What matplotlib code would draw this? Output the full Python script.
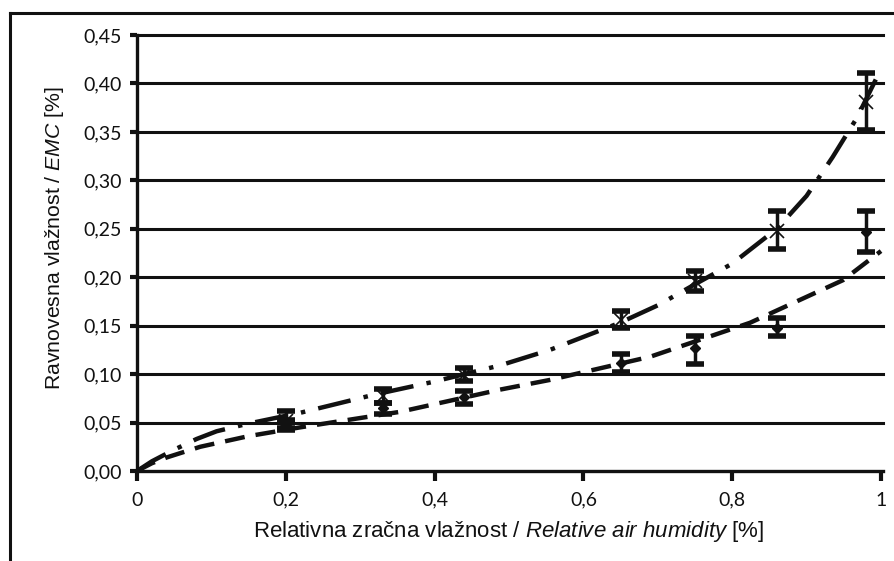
import matplotlib
matplotlib.use("Agg")
import matplotlib.pyplot as plt
from matplotlib.lines import Line2D

# ---- data ----
rh = [0.20, 0.33, 0.44, 0.65, 0.75, 0.86, 0.98]

emc_a = [0.052, 0.077, 0.099, 0.156, 0.196, 0.248, 0.381]
err_a_low = [0.042, 0.070, 0.093, 0.148, 0.186, 0.229, 0.352]
err_a_high = [0.062, 0.085, 0.106, 0.165, 0.206, 0.268, 0.411]

emc_b = [0.048, 0.065, 0.076, 0.111, 0.127, 0.148, 0.247]
err_b_low = [0.044, 0.059, 0.069, 0.102, 0.110, 0.139, 0.226]
err_b_high = [0.053, 0.070, 0.083, 0.121, 0.139, 0.158, 0.268]

fit_a_x = [0, 0.02, 0.05, 0.08, 0.107, 0.15, 0.219, 0.32, 0.398, 0.488, 0.555, 0.649,
           0.70, 0.753, 0.80, 0.86, 0.90, 0.935, 0.968, 1.0]
fit_a_y = [0, 0.010, 0.022, 0.033, 0.041, 0.049, 0.060, 0.079, 0.092, 0.109, 0.125, 0.153,
           0.171, 0.194, 0.214, 0.250, 0.284, 0.324, 0.365, 0.415]

fit_b_x = [0, 0.02, 0.04, 0.085, 0.15, 0.219, 0.353, 0.488, 0.555, 0.69, 0.824, 0.949, 1.0]
fit_b_y = [0, 0.008, 0.014, 0.025, 0.036, 0.045, 0.061, 0.084, 0.094, 0.118, 0.153, 0.197, 0.227]

xticks = [0, 0.2, 0.4, 0.6, 0.8, 1.0]
xticklabels = ["0", "0,2", "0,4", "0,6", "0,8", "1"]
yticks = [0.00, 0.05, 0.10, 0.15, 0.20, 0.25, 0.30, 0.35, 0.40, 0.45]
yticklabels = ["0,00", "0,05", "0,10", "0,15", "0,20", "0,25", "0,30", "0,35", "0,40", "0,45"]

xlabel = r"Relativna zračna vlažnost / $\mathit{Relative\ air\ humidity}$ [%]"
ylabel = r"Ravnovesna vlažnost $\mathit{/\ EMC}$ [%]"

# ---- style ----
plt.rcParams['mathtext.fontset'] = 'custom'
plt.rcParams['mathtext.rm'] = 'Liberation Sans'
plt.rcParams['mathtext.it'] = 'Liberation Sans:italic'

fig = plt.figure(figsize=(8.95, 5.61), dpi=100)
ax = fig.add_axes([137/895, 1-471/561, (881-137)/895, (471-35)/561])

ax.set_xlim(0, 1)
ax.set_ylim(0, 0.45)

for yv in yticks[1:]:
    ax.plot([0, 1.003], [yv, yv], color='#111111', lw=2.2, clip_on=False, zorder=1)

for s in ['top', 'right']:
    ax.spines[s].set_visible(False)
ax.spines['left'].set_linewidth(2.4)
ax.spines['bottom'].set_linewidth(2.4)
ax.spines['bottom'].set_bounds(0, 1.003)
ax.spines['left'].set_color('#111111')
ax.spines['bottom'].set_color('#111111')

ax.set_xticks(xticks)
ax.set_xticklabels(xticklabels)
ax.set_yticks(yticks)
ax.set_yticklabels(yticklabels)
ax.tick_params(axis='y', direction='out', length=5, width=3, color='#111111', pad=6)
ax.tick_params(axis='x', direction='out', length=7, width=3, color='#111111', pad=8)
for lab in ax.get_xticklabels() + ax.get_yticklabels():
    lab.set_fontfamily('Lato')
    lab.set_fontsize(14)
    lab.set_color('#111111')

# fitted curves
ax.plot(fit_a_x, fit_a_y, color='#111111', lw=3.2, linestyle=(0, (7.5, 3, 1, 3)),
        clip_on=False, zorder=3, solid_joinstyle='round')
ax.plot(fit_b_x, fit_b_y, color='#111111', lw=3.2, linestyle=(0, (4.5, 2.5)),
        clip_on=False, zorder=3)

# error bars & markers
ya = [[m - l for m, l in zip(emc_a, err_a_low)], [h - m for m, h in zip(emc_a, err_a_high)]]
yb = [[m - l for m, l in zip(emc_b, err_b_low)], [h - m for m, h in zip(emc_b, err_b_high)]]
ax.errorbar(rh, emc_a, yerr=ya, fmt='none', ecolor='#111111', elinewidth=2.5,
            capsize=6.5, capthick=4, zorder=4)
ax.errorbar(rh, emc_b, yerr=yb, fmt='none', ecolor='#111111', elinewidth=2.5,
            capsize=6.5, capthick=4, zorder=4)
ax.plot(rh, emc_a, linestyle='none', marker='x', color='#111111', markersize=10, mew=1.2, zorder=5)
ax.plot(rh, emc_b, linestyle='none', marker='D', color='#111111', markersize=5, zorder=5)

ax.set_xlabel(xlabel, fontfamily='Liberation Sans', fontsize=16, color='#111111', labelpad=7)
ax.set_ylabel(ylabel, fontfamily='Liberation Sans', fontsize=15.3, color='#111111')
ax.yaxis.set_label_coords(-(137-66)/744, (471-238)/436)

# outer frame lines (top and left)
fig.add_artist(Line2D([10/895, 10/895], [0, 1-13/561], transform=fig.transFigure,
                      color='#111111', lw=2.2))
fig.add_artist(Line2D([10/895, 1], [1-13/561, 1-13/561], transform=fig.transFigure,
                      color='#111111', lw=2.2))

fig.savefig("out.png", dpi=100)
